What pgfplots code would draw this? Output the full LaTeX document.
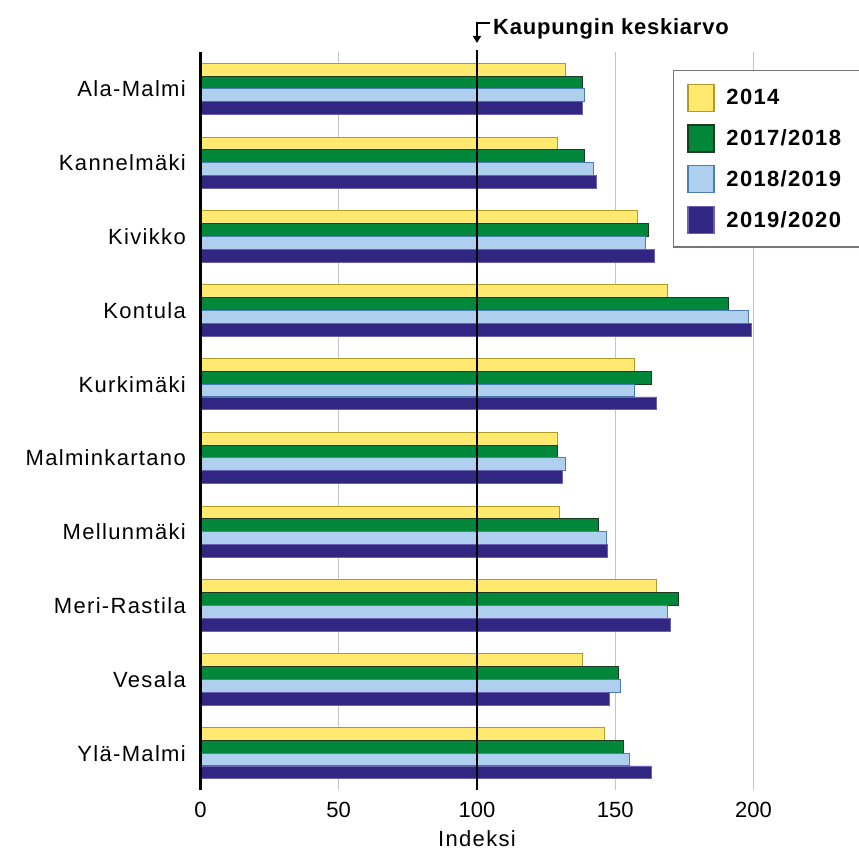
\documentclass[border=0pt]{standalone}
\usepackage{pgfplots}
\usepackage{pgfplotstable}
\pgfplotsset{compat=1.18}
\usetikzlibrary{arrows.meta}
\usepackage{fontspec}
\setmainfont{Liberation Sans}
\newfontfamily\lblfont{Liberation Sans}[LetterSpace=6]
\newfontfamily\legfont{Liberation Sans Bold}[LetterSpace=6]
\newfontfamily\annfont{Liberation Sans Bold}[LetterSpace=3.5]
\definecolor{cyellow}{HTML}{FFE96E}
\definecolor{cyellowb}{HTML}{B09A2A}
\definecolor{cgreen}{HTML}{00873A}
\definecolor{cgreenb}{HTML}{1E3A22}
\definecolor{clblue}{HTML}{AFCFEE}
\definecolor{clblueb}{HTML}{4A7DB0}
\definecolor{cnavy}{HTML}{312783}
\definecolor{cnavyb}{HTML}{6A62B0}
\definecolor{cgrid}{HTML}{C4C4C4}
\definecolor{clegb}{HTML}{6E7E6E}
\pgfplotstableread{
idx a b c d
0 132 138 139 138
1 129 139 142 143
2 158 162 161 164
3 169 191 198 199
4 157 163 157 165
5 129 129 132 131
6 130 144 147 147
7 165 173 169 170
8 138 151 152 148
9 146 153 155 163
}\datatable
\newcommand{\fs}{\fontsize{22bp}{26bp}\selectfont}
\begin{document}
\begin{tikzpicture}
\useasboundingbox (-200.4bp,-60bp) rectangle (658.6bp,790bp);
\begin{axis}[
  at={(0,0)}, anchor=south west,
  scale only axis, width=658.3bp, height=738bp,
  xmin=0, xmax=238, ymin=-0.5, ymax=9.5, y dir=reverse,
  xbar, bar width=12.8bp,
  axis line style={draw=none},
  clip=false,
  xtick={0,50,100,150,200},
  major tick length=0pt,
  xmajorgrids, grid style={cgrid, line width=1bp},
  ytick={0,...,9},
  yticklabels={Ala-Malmi,Kannelmäki,Kivikko,Kontula,Kurkimäki,Malminkartano,Mellunmäki,Meri-Rastila,Vesala,Ylä-Malmi},
  yticklabel style={font=\lblfont\fs, anchor=base east, inner sep=0pt, xshift=-14.4bp, yshift=-8bp},
  xticklabel style={font=\fs, anchor=base, inner sep=0pt, yshift=-27bp},
  /pgf/number format/assume math mode=true,
  legend image code/.code={\draw[#1, line width=1.2bp] (0bp,-13.5bp) rectangle (26bp,13.5bp); \path (36bp,0bp);},
  legend style={at={(axis description cs:0.7176,0.9756)}, anchor=north west,
    draw=clegb, line width=1.2bp, font=\legfont\fs,
    inner xsep=14bp, inner ysep=13bp, row sep=12.5bp,
    cells={anchor=west}},
  legend cell align=left,
]
\addplot[fill=cyellow, draw=cyellowb, line width=1bp, bar shift=19.2bp] table[x=a, y=idx] {\datatable};
\addplot[fill=cgreen, draw=cgreenb, line width=1bp, bar shift=6.4bp] table[x=b, y=idx] {\datatable};
\addplot[fill=clblue, draw=clblueb, line width=1bp, bar shift=-6.4bp] table[x=c, y=idx] {\datatable};
\addplot[fill=cnavy, draw=cnavyb, line width=0.6bp, bar shift=-19.2bp] table[x=d, y=idx] {\datatable};
\legend{2014,2017/2018,2018/2019,2019/2020\hspace*{10bp}}
\draw[black, line width=2.7bp] (axis cs:0,-0.5) -- (axis cs:0,9.5);
\draw[black, line width=2.7bp] ([yshift=2bp]axis cs:100,-0.5) -- (axis cs:100,9.5);
\draw[black, line width=1.3bp, -{Triangle[length=7bp,width=8bp]}] ([xshift=13bp,yshift=29bp]axis cs:100,-0.5) -- ([yshift=29bp]axis cs:100,-0.5) -- ([yshift=9bp]axis cs:100,-0.5);
\node[anchor=base west, inner sep=0pt, font=\annfont\fs] at ([xshift=16bp,yshift=17.7bp]axis cs:100,-0.5) {Kaupungin keskiarvo};
\node[anchor=base, inner sep=0pt, font=\lblfont\fs] at ([yshift=-56bp]axis cs:100,9.5) {Indeksi};
\end{axis}
\end{tikzpicture}
\end{document}
